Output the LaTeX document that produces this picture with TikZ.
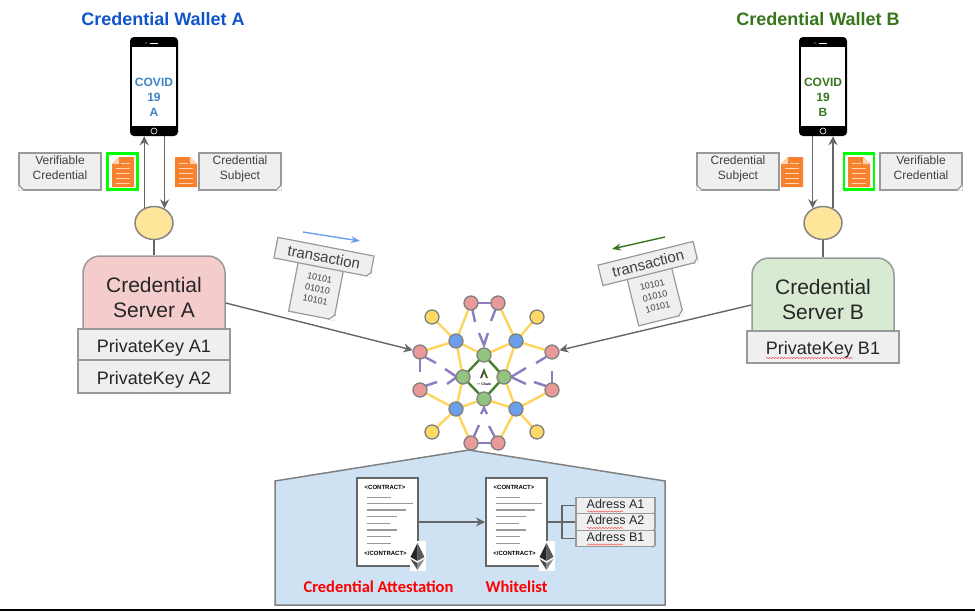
\documentclass[tikz,border=0pt]{standalone}
\usepackage{fontspec}
\setmainfont{Liberation Sans}
\newfontfamily\labelfont{Carlito}
\usetikzlibrary{arrows.meta,calc,decorations.pathmorphing,shapes.geometric}
\definecolor{noteline}{HTML}{999999}
\definecolor{notefill}{HTML}{EFEFEF}
\definecolor{flowline}{HTML}{666666}
\definecolor{ovalfill}{HTML}{FFE599}
\definecolor{docorange}{HTML}{F6812F}
\definecolor{docstripe}{HTML}{FFD2B0}
\definecolor{serverred}{HTML}{F4CCCC}
\definecolor{servergreen}{HTML}{D9EAD3}
\definecolor{walletblue}{HTML}{1155CC}
\definecolor{walletgreen}{HTML}{38761D}
\definecolor{covidblue}{HTML}{3D85C6}
\definecolor{chainblue}{HTML}{6D9EEB}
\definecolor{chainred}{HTML}{EA9999}
\definecolor{chainyellow}{HTML}{FFD966}
\definecolor{chaingreen}{HTML}{93C47D}
\definecolor{chainedge}{HTML}{FFD45C}
\definecolor{chainpurple}{HTML}{8E7CC3}
\definecolor{panelblue}{HTML}{CFE2F3}
% cuts the lower corner of a note: node, near side, far side, size
\newcommand{\foldcorner}[5][white]{
  \fill[#1] (#2.south #3) -- ($(#2.south #3)!#5!(#2.south #4)$) -- ($(#2.south #3)!#5!(#2.north #3)$) -- cycle;
  \draw[noteline, line width=1.2pt] ($(#2.south #3)!#5!(#2.south #4)$) -- ($(#2.south #3)!#5!(#2.north #3)$);
}
\tikzset{
  flow/.style={draw=flowline, line width=1.4pt, -{Stealth[length=9pt,width=9pt]}},
  plainflow/.style={draw=flowline, line width=1.4pt},
  title/.style={font=\fontsize{18}{20}\selectfont\bfseries},
  covid/.style={font=\fontsize{12}{15}\selectfont\bfseries, align=center},
  phone/.style={fill=black, rounded corners=4pt, minimum width=48pt, minimum height=99pt, inner sep=0pt},
  oval/.style={ellipse, draw=flowline!80, line width=1.5pt, fill=ovalfill, minimum width=38pt, minimum height=33pt, inner sep=0pt},
  server/.style={draw=noteline, line width=1.5pt, rounded corners=17pt, minimum width=142pt, minimum height=94pt},
  servertext/.style={font=\fontsize{21}{25}\selectfont, align=center, text=black!85},
  keybox/.style={draw=noteline, line width=1.5pt, fill=notefill, minimum width=152pt, inner sep=0pt, text height=15pt, text depth=0pt, font=\fontsize{18}{20}\selectfont, text=black!85},
  note/.style={draw=noteline, line width=1.2pt, fill=notefill, inner sep=0pt, align=center, text=black!75},
  wallettext/.style={note, minimum width=82pt, minimum height=37pt, text depth=8pt, font=\fontsize{12}{15}\selectfont},
  greenframe/.style={draw=green, line width=2.2pt, minimum width=30pt, minimum height=36pt, inner sep=0pt},
  chainnode/.style={circle, draw=gray, line width=1.3pt, minimum size=14pt, inner sep=0pt},
  chainlink/.style={draw=chainedge, line width=2.4pt},
  tick/.style={draw=chainpurple, line width=2.4pt},
  contract/.style={draw=flowline, line width=2pt, fill=white, minimum width=61pt, minimum height=88pt, inner sep=0pt},
  contracttag/.style={font=\fontsize{6}{6}\selectfont\bfseries, inner sep=0pt},
  redlabel/.style={text=red, font=\labelfont\fontsize{16.5}{18}\selectfont\bfseries},
  squiggle/.style={draw=red!70, line width=0.5pt, decorate, decoration={snake, amplitude=0.6pt, segment length=3pt}},
  docicon/.pic={
    \fill[docorange] (-11,-15) -- (4,-15) -- (11,-8) -- (11,15) -- (-11,15) -- cycle;
    \fill[docstripe] (4,-15) -- (4,-8) -- (11,-8) -- cycle;
    \foreach \dy in {-4,1,6,11} { \draw[docstripe, line width=1pt] (-7,\dy) -- (7,\dy); }
    \draw[docstripe, line width=1pt] (-7,-9) -- (2,-9);
  },
  etherlogo/.pic={
    \fill[white] (-8,-15) rectangle (8,15);
    \fill[black!85] (0,-13) -- (-7,1) -- (0,5) -- cycle;
    \fill[black!65] (0,-13) -- (7,1) -- (0,5) -- cycle;
    \fill[black!70] (-7,3) -- (0,14) -- (0,7) -- cycle;
    \fill[black!45] (7,3) -- (0,14) -- (0,7) -- cycle;
  }
}
\begin{document}
\begin{tikzpicture}[x=1pt, y=-1pt]
  \useasboundingbox (0,0) rectangle (975,611);

  % wallets
  \node[title, text=walletblue] (titleA) at (163,19) {Credential Wallet A};
  \node[title, text=walletgreen] (titleB) at (818,19) {Credential Wallet B};
  \foreach \n/\x/\col/\t in {A/154/covidblue/A,B/823/walletgreen/B} {
    \node[phone] (phone\n) at (\x,86.5) {};
    \fill[white] (\x-22,47) rectangle (\x+22,126);
    \draw[white, line width=0.7pt] (\x-4,43) -- (\x+4,43);
    \fill[white] (\x-8,43) circle (0.7);
    \draw[white, line width=0.6pt] (\x,131) circle (3);
    \node[covid, text=\col] (covid\n) at (\x,97) {COVID\\19\\\t};
    \node[oval] (oval\n) at (\x,223) {};
  }
  \draw[flow] (ovalA.123) -- (ovalA.123 |- phoneA.south);
  \draw[flow] (phoneA.south -| ovalA.54) -- (ovalA.54);
  \draw[flow] (phoneB.south -| ovalB.125) -- (ovalB.125);
  \draw[flow] (ovalB.56) -- (ovalB.56 |- phoneB.south);

  % notes and documents
  \node[wallettext] (verifiableA) at (60,171.5) {Verifiable\\Credential};
  \node[wallettext] (subjectA) at (240,171.5) {Credential\\Subject};
  \node[wallettext] (subjectB) at (738,171.5) {Credential\\Subject};
  \node[wallettext] (verifiableB) at (921,171.5) {Verifiable\\Credential};
  \foldcorner{verifiableA}{west}{east}{6pt}
  \foldcorner{subjectA}{east}{west}{6pt}
  \foldcorner{subjectB}{west}{east}{6pt}
  \foldcorner{verifiableB}{east}{west}{6pt}
  \node[greenframe] (frameA) at (122.5,171.5) {};
  \node[greenframe] (frameB) at (859,171.5) {};
  \pic[xscale=-1] at (123,172) {docicon};
  \pic at (186,172) {docicon};
  \pic[xscale=-1] at (792,172) {docicon};
  \pic at (859,172) {docicon};

  % servers
  \foreach \n/\x/\y/\col in {A/154/303/serverred,B/823/305/servergreen} {
    \node[server, fill=\col] (server\n) at (\x,\y) {};
    \node[servertext] (label\n) at (\x,\y-5.5) {Credential\\Server \n};
    \draw[plainflow] (oval\n) -- (server\n);
  }
  \node[keybox, minimum height=31pt] (keyA1) at (154,344.5) {PrivateKey A1};
  \node[keybox, minimum height=33pt] (keyA2) at (154,376.5) {PrivateKey A2};
  \node[keybox, minimum height=32pt] (keyB1) at (823,347) {PrivateKey B1};
  \draw[squiggle] (766,358) -- (853,358);

  % chain nodes
  \foreach \n/\x/\y in {a/471/303,b/498/303,c/420/352,d/552/352,e/420/390,f/552/390,g/471/443,h/498/443} {
    \coordinate (p\n) at (\x,\y);
  }
  \foreach \n/\x/\y in {1/456/341,2/516/341,3/456/409,4/516/409} {
    \coordinate (q\n) at (\x,\y);
  }
  \foreach \n/\x/\y in {1/484/355,2/463/377,3/504/377,4/484/399} {
    \coordinate (m\n) at (\x,\y);
  }
  \foreach \n/\x/\y in {1/432/317,2/537/317,3/432/432,4/537/432} {
    \coordinate (s\n) at (\x,\y);
  }
  % yellow links
  \foreach \u/\v in {s1/q1,s2/q2,s3/q3,s4/q4,pa/q1,pc/q1,pb/q2,pd/q2,pe/q3,pg/q3,pf/q4,ph/q4,
    q1/m1,q1/m2,q2/m1,q2/m3,q3/m2,q3/m4,q4/m3,q4/m4} {
    \path[chainlink] (\u) -- (\v);
  }
  \foreach \u/\v in {m1/m2,m2/m4,m4/m3,m3/m1} {
    \draw[walletgreen!85!chaingreen, line width=2.4pt] (\u) -- (\v);
  }
  % purple ticks
  \path[tick] (pa) -- (pb);
  \path[tick] (pg) -- (ph);
  \path[tick] (pa) -- (475,322);
  \path[tick] (pb) -- (491,321);
  \path[tick] (479,333) -- (484,345) -- (488,333);
  \path[tick] (pc) -- (420,372);
  \path[tick] (425,357) -- (436,363);
  \path[tick] (425,386) -- (437,382);
  \path[tick] (445,369) -- (457,377) -- (447,384);
  \path[tick] (526,368) -- (511,377) -- (526,384);
  \path[tick] (546,357) -- (536,363);
  \path[tick] (pf) -- (552,371);
  \path[tick] (546,386) -- (534,382);
  \path[tick] (481,414) -- (484,408) -- (487,414);
  \path[tick] (479,425) -- (pg);
  \path[tick] (489,426) -- (ph);
  % circles on top
  \foreach \n in {a,b,c,d,e,f,g,h} { \node[chainnode, fill=chainred] (red\n) at (p\n) {}; }
  \foreach \n in {1,2,3,4} {
    \node[chainnode, fill=chainblue] (blue\n) at (q\n) {};
    \node[chainnode, fill=chaingreen] (green\n) at (m\n) {};
    \node[chainnode, fill=chainyellow] (yellow\n) at (s\n) {};
  }
  % logo in the middle
  \fill[black!70] (484,368) -- (480,378) -- (482,378) -- (484,373) -- cycle;
  \fill[walletgreen] (484,368) -- (488,378) -- (486,378) -- (484,373) -- cycle;
  \node[font=\fontsize{3.5}{3.5}\selectfont\bfseries, inner sep=0pt] (logo) at (484,384) {\textbullet\ \textbullet\ Chain};

  % transactions
  \node[note, minimum width=46pt, minimum height=50pt, rotate=-11] (binA) at (316,291) {};
  \foldcorner{binA}{east}{west}{6pt}
  \node[font=\fontsize{9}{11.5}\selectfont, align=center, rotate=-11, inner sep=0pt, text=black!75] (bitsA) at (317.5,289) {10101\\01010\\10101};
  \node[note, minimum width=98pt, minimum height=21pt, rotate=-11, font=\fontsize{15}{17}\selectfont] (txA) at (324,257) {transaction};
  \foldcorner{txA}{east}{west}{5pt}
  \node[note, minimum width=46pt, minimum height=50pt, rotate=14] (binB) at (655,296) {};
  \foldcorner{binB}{east}{west}{6pt}
  \node[font=\fontsize{9}{11.5}\selectfont, align=center, rotate=14, inner sep=0pt, text=black!75] (bitsB) at (655,296) {10101\\01010\\10101};
  \node[note, minimum width=98pt, minimum height=21pt, rotate=14, font=\fontsize{15}{17}\selectfont] (txB) at (648,263.5) {transaction};
  \foldcorner{txB}{east}{west}{5pt}
  \coordinate (dirA1) at (303,232);
  \coordinate (dirA2) at (360,241);
  \coordinate (dirB1) at (665,237);
  \coordinate (dirB2) at (612,249);
  \draw[chainblue, line width=1.4pt, -{Stealth[length=9pt,width=7pt]}] (dirA1) -- (dirA2);
  \draw[walletgreen, line width=1.4pt, -{Stealth[length=9pt,width=7pt]}] (dirB1) -- (dirB2);
  \draw[flow] (serverA.east) -- (redc);
  \draw[flow] (serverB.west) -- (redd);

  % contract panel
  \draw[draw=gray, line width=1.5pt, fill=panelblue] (275,481) -- (469,450) -- (665,481) -- (665,605) -- (275,605) -- cycle;
  \foreach \n/\cx in {contractA/387.5,contractB/516.5} {
    \node[contract] (\n) at (\cx,522) {};
    \node[contracttag] (\n open) at (\cx-2.5,487) {<CONTRACT>};
    \node[contracttag] (\n close) at (\cx-2,553) {</CONTRACT>};
    \foreach \y/\len in {497.3/24,503.3/46,510/39.5,516.7/30.5,523.3/23.5,530/30,536.7/24,543.3/24} {
      \draw[gray!80, line width=1.2pt] (\cx-21,\y) -- (\cx-21+\len,\y);
    }
    \pic at (\cx+30,556) {etherlogo};
  }
  \draw[flow] (contractA) -- (contractB);
  \node[redlabel] (attestation) at (378.5,587) {Credential Attestation};
  \node[redlabel] (whitelist) at (516.5,587) {Whitelist};
  % address boxes
  \foreach \n/\t/\y in {adressA1/Adress A1/505.5,adressA2/Adress A2/522,adressB1/Adress B1/538.5} {
    \node[note, minimum width=79pt, minimum height=16.5pt, text depth=4pt, font=\fontsize{12.5}{14}\selectfont, text=black!85] (\n) at (615.5,\y) {\t};
    \foldcorner[panelblue]{\n}{east}{west}{3pt}
    \draw[squiggle] (587,\y+6) -- (623,\y+6);
  }
  \coordinate (busB) at (562,522);
  \draw[plainflow] (contractB.east) -- (adressA2.west);
  \draw[plainflow] (busB) |- (adressA1.west);
  \draw[plainflow] (busB) |- (adressB1.west);

  % rule along the bottom
  \draw[black, line width=1.5pt] (0,610) -- (975,610);
\end{tikzpicture}
\end{document}
